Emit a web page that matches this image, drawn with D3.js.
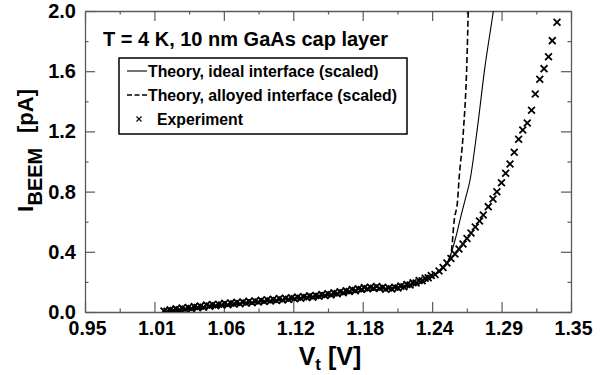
<!DOCTYPE html>
<html><head><meta charset="utf-8">
<script src="https://cdn.jsdelivr.net/npm/d3@7"></script>
<style>
html,body{margin:0;padding:0;background:#fff;}
text{font-family:"Liberation Sans",Arial,Helvetica,sans-serif;font-weight:bold;fill:#000;}
</style></head>
<body>
<svg id="chart" width="611" height="375"></svg>
<script>
// ---------------- data ----------------
const xTickLabels = ["0.95","1.01","1.06","1.12","1.18","1.24","1.29","1.35"];
const yTickLabels = ["0.0","0.4","0.8","1.2","1.6","2.0"];

const idealV = [1.014,1.02,1.03,1.04,1.06,1.08,1.10,1.12,1.14,1.16,1.18,1.20,1.21,1.22,1.23,1.234,1.24,1.2447,1.249,1.2521,1.2553,1.2586,1.2628,1.2669,1.2724,1.2792,1.2861,1.2875];
const idealI = [0,0.004,0.012,0.021,0.039,0.055,0.070,0.085,0.100,0.120,0.140,0.158,0.168,0.182,0.205,0.225,0.258,0.292,0.34,0.41,0.50,0.611,0.744,0.877,1.187,1.63,2.0,2.08];

const alloyV = [1.014,1.02,1.03,1.04,1.06,1.08,1.10,1.12,1.14,1.16,1.18,1.20,1.21,1.22,1.23,1.234,1.24,1.2447,1.249,1.2515,1.2539,1.2567,1.2578,1.2613,1.2642,1.2655,1.2660];
const alloyI = [0,0.004,0.012,0.021,0.039,0.055,0.070,0.085,0.100,0.120,0.140,0.158,0.168,0.182,0.205,0.225,0.258,0.292,0.34,0.40,0.611,0.744,0.877,1.187,1.63,2.0,2.1];

const expV = [1.0150,1.0175,1.0200,1.0225,1.0250,1.0275,1.0300,1.0325,1.0350,1.0375,1.0400,1.0425,1.0450,1.0475,1.0500,1.0525,1.0550,1.0575,1.0600,1.0625,1.0650,1.0675,1.0700,1.0725,1.0750,1.0775,1.0800,1.0825,1.0850,1.0875,1.0900,1.0925,1.0950,1.0975,1.1000,1.1025,1.1050,1.1075,1.1100,1.1125,1.1150,1.1175,1.1200,1.1225,1.1250,1.1275,1.1300,1.1325,1.1350,1.1375,1.1400,1.1425,1.1450,1.1475,1.1500,1.1525,1.1550,1.1575,1.1600,1.1625,1.1650,1.1675,1.1700,1.1725,1.1750,1.1775,1.1800,1.1825,1.1850,1.1875,1.1900,1.1925,1.1950,1.1975,1.2000,1.2025,1.2050,1.2075,1.2100,1.2125,1.2150,1.2175,1.2200,1.2225,1.2250,1.2275,1.2300,1.2325,1.2350,
1.2381,1.2414,1.2447,1.2479,1.2512,1.2545,1.2578,1.2611,1.2644,1.2677,1.2712,1.2747,1.2778,1.2819,1.2858,1.2890,1.2928,1.2962,1.2998,1.3033,1.3069,1.3103,1.3140,1.3175,1.3206,1.3243,1.3278,1.3315,1.3346,1.3385];
const expI = [0.007,0.005,0.014,0.010,0.021,0.014,0.027,0.019,0.030,0.023,0.036,0.029,0.039,0.032,0.046,0.039,0.049,0.041,0.052,0.046,0.058,0.048,0.059,0.054,0.064,0.055,0.066,0.060,0.072,0.062,0.073,0.067,0.078,0.070,0.081,0.073,0.084,0.077,0.089,0.080,0.091,0.084,0.095,0.088,0.099,0.091,0.102,0.096,0.108,0.099,0.110,0.105,0.116,0.110,0.121,0.114,0.127,0.122,0.135,0.128,0.141,0.136,0.149,0.142,0.154,0.150,0.162,0.154,0.165,0.158,0.169,0.157,0.164,0.152,0.160,0.153,0.165,0.160,0.172,0.168,0.183,0.179,0.194,0.193,0.209,0.208,0.224,0.227,0.243,
0.249,0.272,0.296,0.326,0.355,0.385,0.419,0.452,0.488,0.525,0.565,0.605,0.645,0.700,0.751,0.799,0.859,0.922,0.983,1.061,1.148,1.209,1.256,1.340,1.449,1.546,1.617,1.696,1.803,1.925];

// ---------------- layout ----------------
const svg = d3.select("#chart");
const L = 85, R = 571, T = 11, B = 312;
const x = d3.scaleLinear().domain([0.95, 1.35]).range([L, R]);
const y = d3.scaleLinear().domain([0, 2.0]).range([B, T]);

const xMajor = xTickLabels.map((_, i) => 0.95 + i * 0.4 / 7);
const xMinor = xMajor.slice(0, -1).map(v => v + 0.2 / 7);
const yMajor = yTickLabels.map(s => +s);
const yMinor = yMajor.slice(0, -1).map(v => v + 0.2);

const frameColor = "#5a5a5a";

function styleAxis(g) {
  g.select(".domain").attr("stroke", frameColor).attr("stroke-width", 1.3);
  g.selectAll(".tick line").attr("stroke", frameColor).attr("stroke-width", 1.2);
}

// bottom
svg.append("g").attr("transform", `translate(0,${B})`)
  .call(d3.axisBottom(x).tickValues(xMajor).tickSize(-10).tickSizeOuter(0)
    .tickFormat((d, i) => xTickLabels[i]).tickPadding(9))
  .call(styleAxis)
  .call(g => g.selectAll("text").attr("font-size", 19.5).attr("dy", "0.71em").attr("dx", 2).attr("fill", "#000"));
svg.append("g").attr("transform", `translate(0,${B})`)
  .call(d3.axisBottom(x).tickValues(xMinor).tickSize(-3.5).tickSizeOuter(0).tickFormat(""))
  .call(styleAxis).call(g => g.select(".domain").remove());
// top
svg.append("g").attr("transform", `translate(0,${T})`)
  .call(d3.axisTop(x).tickValues(xMajor).tickSize(-10).tickSizeOuter(0).tickFormat(""))
  .call(styleAxis);
svg.append("g").attr("transform", `translate(0,${T})`)
  .call(d3.axisTop(x).tickValues(xMinor).tickSize(-3.5).tickSizeOuter(0).tickFormat(""))
  .call(styleAxis).call(g => g.select(".domain").remove());
// left
svg.append("g").attr("transform", `translate(${L},0)`)
  .call(d3.axisLeft(y).tickValues(yMajor).tickSize(-10).tickSizeOuter(0)
    .tickFormat((d, i) => yTickLabels[i]).tickPadding(9))
  .call(styleAxis)
  .call(g => g.selectAll("text").attr("font-size", 20).attr("fill", "#000"));
svg.append("g").attr("transform", `translate(${L},0)`)
  .call(d3.axisLeft(y).tickValues(yMinor).tickSize(-3.5).tickSizeOuter(0).tickFormat(""))
  .call(styleAxis).call(g => g.select(".domain").remove());
// right
svg.append("g").attr("transform", `translate(${R},0)`)
  .call(d3.axisRight(y).tickValues(yMajor).tickSize(-10).tickSizeOuter(0).tickFormat(""))
  .call(styleAxis);
svg.append("g").attr("transform", `translate(${R},0)`)
  .call(d3.axisRight(y).tickValues(yMinor).tickSize(-3.5).tickSizeOuter(0).tickFormat(""))
  .call(styleAxis).call(g => g.select(".domain").remove());

// clip
svg.append("clipPath").attr("id", "clip").append("rect")
  .attr("x", L).attr("y", T).attr("width", R - L).attr("height", B - T);

const plot = svg.append("g").attr("clip-path", "url(#clip)");
const line = d3.line().x(d => x(d[0])).y(d => y(d[1])).curve(d3.curveMonotoneX);

plot.append("path").datum(idealV.map((v, i) => [v, idealI[i]]))
  .attr("d", line).attr("fill", "none").attr("stroke", "#000").attr("stroke-width", 1.1);
plot.append("path").datum(alloyV.map((v, i) => [v, alloyI[i]]))
  .attr("d", line).attr("fill", "none").attr("stroke", "#000").attr("stroke-width", 1.6)
  .attr("stroke-dasharray", "6,3");

const s = 3.4;
plot.append("g").selectAll("path").data(expV.map((v, i) => [v, expI[i]])).join("path")
  .attr("d", d => {
    const cx = x(d[0]), cy = y(d[1]);
    return `M${cx - s},${cy - s}L${cx + s},${cy + s}M${cx - s},${cy + s}L${cx + s},${cy - s}`;
  })
  .attr("stroke", "#000").attr("stroke-width", 1.8).attr("fill", "none");

// title
svg.append("text").attr("x", 103).attr("y", 46).attr("font-size", 20)
  .text("T = 4 K, 10 nm GaAs cap layer");

// legend
const lg = svg.append("g");
lg.append("rect").attr("x", 119).attr("y", 58).attr("width", 288).attr("height", 76)
  .attr("fill", "#fff").attr("stroke", "#000").attr("stroke-width", 1.5);
const rows = [71, 95, 119];
lg.append("line").attr("x1", 127).attr("x2", 147).attr("y1", rows[0]).attr("y2", rows[0])
  .attr("stroke", "#000").attr("stroke-width", 1.1);
lg.append("line").attr("x1", 127).attr("x2", 147).attr("y1", rows[1]).attr("y2", rows[1])
  .attr("stroke", "#000").attr("stroke-width", 1.5).attr("stroke-dasharray", "5,2.5");
lg.append("path").attr("d", `M${139 - 2.5},${rows[2] - 2.5}L${139 + 2.5},${rows[2] + 2.5}M${139 - 2.5},${rows[2] + 2.5}L${139 + 2.5},${rows[2] - 2.5}`)
  .attr("stroke", "#000").attr("stroke-width", 1.1);
const legendTexts = ["Theory, ideal interface (scaled)", "Theory, alloyed interface (scaled)", "Experiment"];
legendTexts.forEach((t, i) => {
  lg.append("text").attr("x", i === 2 ? 157 : 148).attr("y", rows[i] + 5.5).attr("font-size", 15.8).text(t);
});

// axis titles
const xt = svg.append("text").attr("x", 330).attr("y", 365).attr("text-anchor", "middle");
xt.append("tspan").attr("font-size", 25).text("V");
xt.append("tspan").attr("font-size", 17).attr("dy", 5).text("t");
xt.append("tspan").attr("font-size", 25).attr("dy", -5).text(" [V]");

const yt = svg.append("g").attr("transform", "translate(33,212) rotate(-90)");
yt.append("text").attr("x", 0).attr("y", 0).attr("font-size", 22).text("I");
yt.append("text").attr("x", 6.5).attr("y", 9).attr("font-size", 20).text("BEEM");
yt.append("text").attr("x", 79).attr("y", 0).attr("font-size", 22).text("[pA]");
</script>
</body></html>
